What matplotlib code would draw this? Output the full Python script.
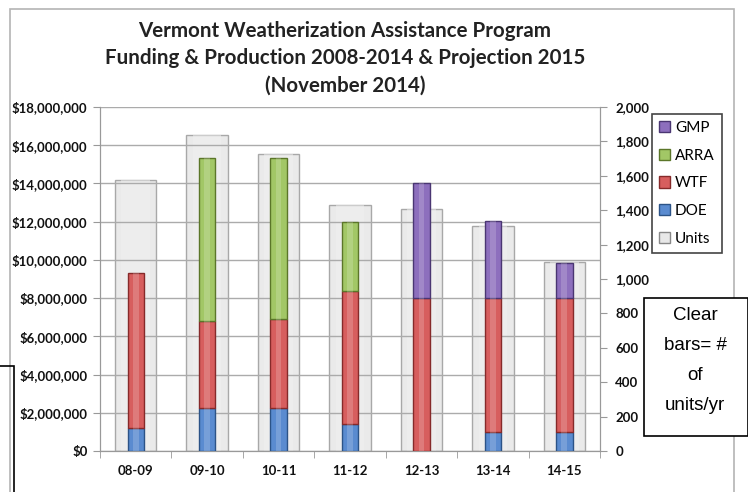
import matplotlib.pyplot as plt
from matplotlib.patches import Rectangle
from matplotlib.ticker import FuncFormatter, FixedLocator
import numpy as np

years = ['08-09', '09-10', '10-11', '11-12', '12-13', '13-14', '14-15']
doe = [1.22e6, 2.27e6, 2.27e6, 1.41e6, 0.0, 1.0e6, 1.0e6]
wtf = [8.08e6, 4.55e6, 4.62e6, 6.96e6, 8.0e6, 7.0e6, 7.0e6]
arra = [0.0, 8.49e6, 8.42e6, 3.60e6, 0.0, 0.0, 0.0]
gmp = [0.0, 0.0, 0.0, 0.0, 6.0e6, 4.03e6, 1.85e6]
units = [1575, 1837, 1725, 1430, 1407, 1310, 1097]

title = ('Vermont Weatherization Assistance Program\n'
         'Funding & Production 2008-2014 & Projection 2015\n'
         '(November 2014)')

font = 'Lato'
W, H = 748, 492
fig = plt.figure(figsize=(W / 100, H / 100), dpi=100)

# outer chart frame and the cut off text box on the left
fig.patches.append(Rectangle((10 / W, -0.05), 724 / W, 1.05 - 9 / H,
                             transform=fig.transFigure, fill=False,
                             edgecolor='#b4b4b4', lw=1.2, zorder=0))
fig.patches.append(Rectangle((-0.05, -0.05), 0.05 + 14 / W, 0.05 + 1 - 366 / H,
                             transform=fig.transFigure, fill=False,
                             edgecolor='black', lw=1.2, zorder=0))

ax = fig.add_axes([100 / W, 1 - 451 / H, 500 / W, 344 / H])
ax2 = ax.twinx()
ax.set_zorder(ax2.get_zorder() + 1)
ax.patch.set_visible(False)

x = np.arange(len(years))

# clear bars = units (right axis)
ax2.bar(x, units, width=0.58, color='#e4e4e4', edgecolor='#8f8f8f',
        lw=1.0, alpha=0.75, zorder=2)
ax2.bar(x, units, width=0.40, color='#f0f0f0', alpha=0.5, lw=0, zorder=2)

# funding stack (left axis)
series = [('DOE', doe, '#5a8bd0', '#2c5387'),
          ('WTF', wtf, '#d75e5e', '#862a2a'),
          ('ARRA', arra, '#a2c766', '#5b7629'),
          ('GMP', gmp, '#8d6fbd', '#4a3672')]
bottom = np.zeros(len(years))
proxies = {}
for name, vals, c, ec in series:
    vals = np.array(vals)
    lws = [1.0 if v > 0 else 0.0 for v in vals]
    ax.bar(x, vals, width=0.23, bottom=bottom, color=c, edgecolor=ec,
           lw=lws, zorder=3)
    ax.bar(x, vals, width=0.08, bottom=bottom, color='white', alpha=0.18,
           lw=0, zorder=4)
    proxies[name] = Rectangle((0, 0), 1, 1, facecolor=c, edgecolor=ec, lw=1.0)
    bottom += vals

ax.set_ylim(0, 18e6)
ax2.set_ylim(0, 2000)
ax.set_xlim(-0.5, len(years) - 0.5)

ax.yaxis.set_major_locator(FixedLocator(np.arange(0, 18e6 + 1, 2e6)))
ax.yaxis.set_major_formatter(FuncFormatter(lambda v, p: f'${v:,.0f}'))
ax2.yaxis.set_major_locator(FixedLocator(np.arange(0, 2001, 200)))
ax2.yaxis.set_major_formatter(FuncFormatter(lambda v, p: f'{v:,.0f}'))

ax.grid(axis='y', color='#ababab', lw=1.0, zorder=1)
ax.set_axisbelow(True)

ax.set_xticks(x)
ax.set_xticklabels(years)
ax.set_xticks(np.arange(-0.5, len(years)), minor=True)
ax.tick_params(axis='x', which='major', length=0, pad=10)
ax.tick_params(axis='x', which='minor', length=5, color='#999999')
ax.tick_params(axis='y', length=5, color='#999999', pad=4)
ax2.tick_params(axis='y', length=5, color='#999999', pad=6)

for a in (ax, ax2):
    for s in a.spines.values():
        s.set_color('#999999')
    a.spines['top'].set_visible(False)
    for lbl in a.get_yticklabels() + a.get_xticklabels():
        lbl.set_fontfamily(font)
        lbl.set_fontweight('bold')
        lbl.set_fontsize(9.5)
        lbl.set_color('#111111')

fig.text(345 / W, 1 - 58 / H, title, ha='center', va='center',
         fontfamily=font, fontweight='bold', fontsize=14.8, linespacing=1.45,
         color='#222222')

# legend (reverse order) with units
proxies['Units'] = Rectangle((0, 0), 1, 1, facecolor='#e8e8e8',
                             edgecolor='#888888', lw=1.0)
leg_labels = ['GMP', 'ARRA', 'WTF', 'DOE', 'Units']
leg = fig.legend([proxies[k] for k in leg_labels], leg_labels, loc='upper left',
                 bbox_to_anchor=(652 / W, 1 - 114 / H), borderaxespad=0,
                 prop={'family': font, 'size': 11}, handlelength=0.75,
                 handleheight=0.75, handletextpad=0.3, labelspacing=0.9,
                 borderpad=0.45, fancybox=False, edgecolor='#444444',
                 framealpha=1)
leg.get_frame().set_linewidth(1.2)

# note box on the right
fig.patches.append(Rectangle((644 / W, 1 - 436 / H), 104 / W, 138 / H,
                             transform=fig.transFigure, facecolor='white',
                             edgecolor='black', lw=1.2, zorder=5))
fig.text(695 / W, 1 - 360 / H, 'Clear\nbars= #\nof\nunits/yr', ha='center',
         va='center', fontfamily='Liberation Sans', fontsize=13.5,
         linespacing=2.0, zorder=6)

fig.savefig('out.png', dpi=100)
